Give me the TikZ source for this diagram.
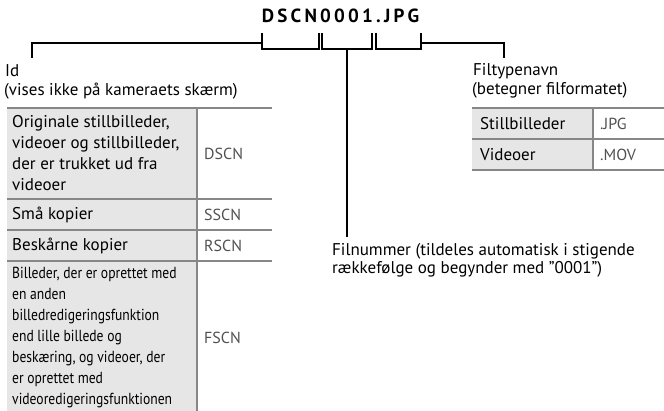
\documentclass[tikz,border=0pt]{standalone}
\usepackage{fontspec}
\setmainfont{PT Sans}
\usetikzlibrary{positioning}
\definecolor{cellgray}{HTML}{E6E6E6}
\definecolor{rulegray}{HTML}{878787}
\definecolor{valgray}{HTML}{505050}

\begin{document}
\begin{tikzpicture}[
  x=1pt,y=-1pt,
  font=\fontsize{17}{19}\selectfont,
  brk/.style={line width=1.4pt,black},
  rule/.style={line width=2.6pt,rulegray},
  keytxt/.style={anchor=west,inner sep=0pt,align=left,font=\fontsize{17}{21}\selectfont},
  valtxt/.style={anchor=west,inner sep=0pt,text=valgray,font=\fontsize{16}{21}\selectfont},
  lbl/.style={anchor=base west,inner sep=0pt},
]
\useasboundingbox (0,0) rectangle (664,411);

% File name and its brackets
\node[anchor=base,font=\bfseries\fontsize{19}{19}\selectfont\addfontfeatures{LetterSpace=17}] (fname) at (340.5,23) {DSCN0001.JPG};
\coordinate (idtop)  at (262,33);
\coordinate (numtop) at (322,33);
\coordinate (exttop) at (376,33);
\coordinate (idend)  at (32,58);
\coordinate (extend) at (504,58);
\coordinate (numend) at (347,237);
\draw[brk] (idtop) |- (319,49) -- (319,33);
\draw[brk] (numtop) |- (372,49) -- (372,33);
\draw[brk] (exttop) |- (421,49) -- (421,33);
\draw[brk] (idtop |- 0,43) -| (idend);
\draw[brk] (421,43) -| (extend);
\draw[brk] (numend |- 0,49) -- (numend);

% Labels
\node[lbl] (idlbl)  at (5,77) {Id};
\node[lbl] (idnote) at (4,96) {(vises ikke på kameraets skærm)};
\node[lbl] (extlbl)  at (473,76) {Filtypenavn};
\node[lbl] (extnote) at (472,95) {(betegner filformatet)};
\node[lbl] (numlbl)  at (332,256) {Filnummer (tildeles automatisk i stigende};
\node[lbl] (numnote) at (332,274) {rækkefølge og begynder med "0001")};

% Left table: prefixes
\fill[cellgray] (7,108) rectangle (197,417);
\node[keytxt] (orig)  at (12,153.5) {Originale stillbilleder,\\videoer og stillbilleder,\\der er trukket ud fra\\videoer};
\node[keytxt] (small) at (12,214.5) {Små kopier};
\node[keytxt] (crop)  at (12,245.5) {Beskårne kopier};
\node[keytxt,font=\fontsize{16}{21}\selectfont\addfontfeatures{FakeStretch=0.85}] (other) at (12,338) {Billeder, der er oprettet med\\en anden\\billedredigeringsfunktion\\end lille billede og\\beskæring, og videoer, der\\er oprettet med\\videoredigeringsfunktionen};
\node[valtxt] (dscn) at (204,153.5) {DSCN};
\node[valtxt] (sscn) at (204,214.5) {SSCN};
\node[valtxt] (rscn) at (204,245.5) {RSCN};
\node[valtxt] (fscn) at (204,338) {FSCN};
\foreach \y in {108,199,230,261}
  \draw[rule] (7,\y) -- (272,\y);
\draw[rule] (197,108) -- (197,417);

% Right table: extensions
\fill[cellgray] (472,108) rectangle (593,170);
\node[keytxt] (still) at (480,123.5) {Stillbilleder};
\node[keytxt] (movie) at (480,154.5) {Videoer};
\node[valtxt] (jpg) at (600,123.5) {.JPG};
\node[valtxt] (mov) at (600,154.5) {.MOV};
\foreach \y in {108,139,170}
  \draw[rule] (472,\y) -- (664,\y);
\draw[rule] (593,108) -- (593,170);
\end{tikzpicture}
\end{document}
